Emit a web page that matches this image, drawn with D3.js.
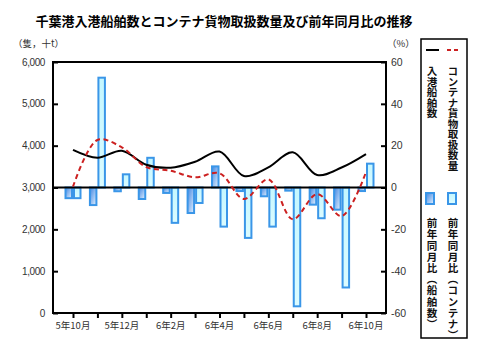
<!DOCTYPE html>
<html><head><meta charset="utf-8">
<script src="https://cdn.jsdelivr.net/npm/d3@7"></script>
<style>body{margin:0;background:#fff} svg{display:block}</style>
</head><body><svg id="c" width="480" height="356"></svg>
<script>
const months = ["5年10月","5年11月","5年12月","6年1月","6年2月","6年3月","6年4月","6年5月","6年6月","6年7月","6年8月","6年9月","6年10月"];
const tickLabels = ["5年10月","5年12月","6年2月","6年4月","6年6月","6年8月","6年10月"];
const ships = [3900,3712,3879,3545,3473,3616,3860,3275,3482,3840,3298,3478,3800];
const containers = [3020,4135,3960,3490,3400,3245,3340,2727,3195,2240,2844,2318,3370];
const shipYoY = [-5.1,-8.4,-1.8,-5.5,-2.6,-12.2,10.1,-1.7,-4.2,-1.5,-8.2,-10.6,-1.7];
const contYoY = [-5.1,52.5,6.3,14.2,-16.9,-7.4,-18.7,-24.1,-18.7,-56.8,-14.7,-47.8,11.4];
const leftTicks = [0,1000,2000,3000,4000,5000,6000];
const rightTicks = [-60,-40,-20,0,20,40,60];
const seriesKeys = ["ship","cont"];

const svg = d3.select("#c");
const L = 53, R = 386, T = 62, B = 313;
const x = d3.scalePoint().domain(months).range([73, 366]);
const sub = d3.scaleBand().domain(seriesKeys).range([-8.5, 8.5]);
const yL = d3.scaleLinear().domain([0, 6000]).range([B, T]);
const yR = d3.scaleLinear().domain([-60, 60]).range([B, T]);

const defs = svg.append("defs");
const g1 = defs.append("linearGradient").attr("id","gShip").attr("x1",0).attr("y1",0).attr("x2",1).attr("y2",1);
g1.append("stop").attr("offset","0%").attr("stop-color","#3f86e2");
g1.append("stop").attr("offset","100%").attr("stop-color","#e4f1ff");
const g2 = defs.append("linearGradient").attr("id","gCont").attr("x1",0).attr("y1",0).attr("x2",0).attr("y2",1);
g2.append("stop").attr("offset","0%").attr("stop-color","#c4f7ff");
g2.append("stop").attr("offset","100%").attr("stop-color","#dcfcff");

const jp = "'Noto Sans CJK JP', sans-serif";
const num = "'Liberation Sans', Arial, sans-serif";

// title
svg.append("text").attr("x", 224).attr("y", 26).attr("text-anchor","middle")
  .attr("font-family", jp).attr("font-weight","bold").attr("font-size", 13).attr("fill","#000")
  .text("千葉港入港船舶数とコンテナ貨物取扱数量及び前年同月比の推移");
svg.append("text").attr("x", 13).attr("y", 47).attr("font-family", jp).attr("font-size", 9.5).attr("fill","#333").text("（隻，十t）");
svg.append("text").attr("x", 387).attr("y", 47).attr("font-family", jp).attr("font-size", 9.5).attr("fill","#333").text("（%）");

// bars
const stroke = "#3a96e8";
const bars = svg.append("g");
function drawBars(vals, key, fill){
  bars.selectAll(null).data(vals).enter().append("rect")
    .attr("x", (d,i) => x(months[i]) + sub(key) + 1)
    .attr("width", sub.bandwidth() - 2)
    .attr("y", d => Math.min(yR(0), yR(d)))
    .attr("height", d => Math.abs(yR(d) - yR(0)))
    .attr("fill", fill).attr("stroke", stroke).attr("stroke-width", 2);
}
drawBars(shipYoY, "ship", "url(#gShip)");
drawBars(contYoY, "cont", "url(#gCont)");

// zero line
svg.append("line").attr("x1", L).attr("x2", R).attr("y1", yR(0)).attr("y2", yR(0)).attr("stroke","#000").attr("stroke-width",2);

// lines
const line = d3.line().x((d,i) => x(months[i])).y(d => yL(d)).curve(d3.curveCatmullRom.alpha(0.5));
svg.append("path").datum(ships).attr("d", line).attr("fill","none").attr("stroke","#000").attr("stroke-width",2);
svg.append("path").datum(containers).attr("d", line).attr("fill","none").attr("stroke","#cc2020").attr("stroke-width",2).attr("stroke-dasharray","5,3.5");

// frame
svg.append("rect").attr("x", L).attr("y", T).attr("width", R-L).attr("height", B-T).attr("fill","none").attr("stroke","#000").attr("stroke-width",2);

// left axis
const la = svg.append("g").attr("transform", `translate(${L},0)`)
  .call(d3.axisRight(yL).tickValues(leftTicks).tickSize(5).tickFormat(""));
la.select(".domain").remove();
la.selectAll("line").attr("stroke","#000").attr("stroke-width",2);
svg.append("g").selectAll(null).data(leftTicks).enter().append("text")
  .attr("x", 45).attr("y", d => yL(d)).attr("dy","0.35em").attr("text-anchor","end")
  .attr("font-family", num).attr("font-size", 10).attr("letter-spacing", -0.4).attr("fill","#333")
  .text(d => d3.format(",")(d));

// right axis
const ra = svg.append("g").attr("transform", `translate(${R},0)`)
  .call(d3.axisLeft(yR).tickValues(rightTicks).tickSize(5).tickFormat(""));
ra.select(".domain").remove();
ra.selectAll("line").attr("stroke","#000").attr("stroke-width",2);
svg.append("g").selectAll(null).data(rightTicks).enter().append("text")
  .attr("x", 391).attr("y", d => yR(d)).attr("dy","0.35em").attr("text-anchor","start")
  .attr("font-family", num).attr("font-size", 10.5).attr("fill","#333")
  .text(d => d);

// bottom axis
const ba = svg.append("g").attr("transform", `translate(0,${B})`)
  .call(d3.axisBottom(x).tickSize(5).tickFormat(""));
ba.select(".domain").remove();
ba.selectAll("line").attr("stroke","#000").attr("stroke-width",2);
svg.append("g").selectAll(null).data(tickLabels).enter().append("text")
  .attr("x", d => x(d)).attr("y", 329).attr("text-anchor","middle")
  .attr("font-family", jp).attr("font-size", 9.5).attr("fill","#333")
  .text(d => d);

// legend
svg.append("rect").attr("x", 421).attr("y", 39).attr("width", 46).attr("height", 299)
  .attr("fill","#fff").attr("stroke","#000").attr("stroke-width",1.5);
svg.append("line").attr("x1",426).attr("x2",439).attr("y1",50).attr("y2",50).attr("stroke","#000").attr("stroke-width",2);
svg.append("line").attr("x1",447).attr("x2",461).attr("y1",50).attr("y2",50).attr("stroke","#cc2020").attr("stroke-width",2).attr("stroke-dasharray","4,3");
function vtext(cx, y, s, ls){
  svg.append("text").attr("x", cx).attr("y", y)
    .attr("style", "writing-mode: vertical-rl;")
    .attr("font-family", jp).attr("font-size", 10.5).attr("font-weight","bold")
    .attr("letter-spacing", ls).attr("fill","#111").text(s);
}
vtext(432, 66, "入港船舶数", 0);
vtext(453, 66, "コンテナ貨物取扱数量", 0);
svg.append("rect").attr("x",426).attr("y",193).attr("width",8).attr("height",11).attr("fill","url(#gShip)").attr("stroke",stroke).attr("stroke-width",2);
svg.append("rect").attr("x",448).attr("y",193).attr("width",8).attr("height",11).attr("fill","url(#gCont)").attr("stroke",stroke).attr("stroke-width",2);
vtext(432, 218, "前年同月比（船舶数）", 0.7);
vtext(453, 218, "前年同月比（コンテナ）", 0.7);
</script></body></html>
